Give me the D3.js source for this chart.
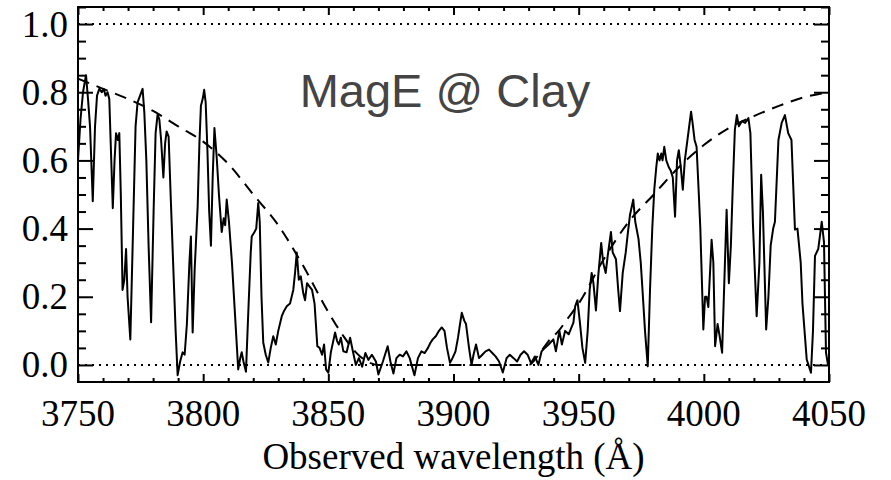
<!DOCTYPE html>
<html><head><meta charset="utf-8">
<script src="https://cdn.jsdelivr.net/npm/d3@7"></script>
<style>
html,body{margin:0;padding:0;background:#fff;}
svg{display:block;}
</style></head>
<body>
<svg id="chart" width="891" height="480"></svg>
<script>
// ---- data ----
const specWave = [3750,3751.0,3752.0,3753.2,3754.0,3754.8,3755.9,3756.8,3757.6,3758.5,3759.5,3760.3,3761.0,3761.8,3762.5,3763.2,3763.9,3764.6,3765.2,3765.9,3766.5,3767.1,3767.8,3768.5,3769.2,3769.8,3770.9,3772.0,3773.0,3773.8,3774.8,3775.8,3776.5,3777.3,3778.2,3779.2,3780.2,3781.0,3781.8,3782.5,3783.2,3784.1,3784.8,3785.4,3786.2,3787.0,3788.0,3789.0,3789.8,3790.8,3791.8,3792.6,3793.5,3794.5,3795.1,3795.8,3796.6,3797.8,3798.5,3799.1,3799.8,3800.4,3801.0,3801.7,3802.4,3803.1,3803.8,3804.5,3805.4,3806.3,3807.4,3808.2,3808.8,3809.4,3810.3,3811.5,3812.7,3814.0,3814.8,3815.4,3816.1,3817.1,3818.0,3819.0,3819.4,3820.5,3821.2,3822.0,3822.6,3823.3,3824.0,3825.0,3826.0,3827.0,3828.0,3829.0,3830.0,3831.4,3832.4,3833.4,3834.7,3836.0,3836.7,3837.4,3838.2,3839.0,3840.0,3840.7,3841.5,3842.5,3843.5,3844.5,3845.6,3846.5,3847.5,3848.3,3849.1,3850.0,3851.0,3852.7,3853.5,3854.2,3855.0,3856.0,3857.3,3858.7,3859.8,3861.0,3862.2,3863.5,3864.8,3866.0,3867.4,3869.0,3870.0,3871.8,3873.7,3874.8,3876.0,3877.2,3878.5,3879.8,3881.2,3882.5,3884.4,3885.8,3887.2,3888.5,3889.8,3890.8,3891.7,3893.0,3894.2,3895.3,3896.4,3897.4,3898.6,3899.6,3900.8,3901.8,3902.6,3903.3,3904.3,3905.0,3906.2,3907.2,3908.0,3909.0,3910.2,3911.5,3912.8,3914.2,3915.5,3916.8,3918.2,3919.7,3921.2,3922.5,3924.0,3925.4,3926.8,3928.2,3929.6,3931.0,3932.5,3933.9,3935.2,3936.5,3938.0,3939.9,3940.9,3942.3,3943.3,3944.6,3946.0,3947.9,3948.6,3949.5,3950.5,3951.5,3952.6,3953.6,3954.4,3955.2,3955.9,3956.9,3957.8,3959.0,3959.8,3960.8,3961.6,3962.9,3963.6,3964.9,3965.8,3966.5,3967.6,3968.8,3969.5,3970.5,3971.8,3972.6,3973.9,3974.8,3975.5,3976.5,3977.6,3978.5,3979.4,3980.2,3981.0,3981.6,3982.3,3983.0,3983.5,3984.2,3985.0,3986.0,3986.8,3987.6,3988.5,3989.3,3990.0,3990.8,3991.6,3992.4,3993.8,3994.9,3995.5,3996.3,3997.1,3998.0,3998.6,3999.8,4000.5,4001.1,4001.8,4003.1,4003.8,4004.5,4005.5,4006.2,4007.3,4008.0,4009.1,4010.0,4010.8,4011.5,4012.4,4013.2,4014.0,4015.2,4016.5,4017.8,4018.6,4019.6,4021.1,4022.2,4022.9,4023.6,4024.9,4025.8,4026.7,4027.7,4028.4,4029.8,4031.1,4032.4,4033.7,4035.0,4036.4,4037.4,4038.7,4039.4,4041.1,4042.8,4043.6,4044.4,4045.7,4047.1,4048.0,4048.8,4049.6,4050];
const specFlux = [0.60,0.72,0.80,0.85,0.78,0.70,0.48,0.70,0.79,0.81,0.80,0.81,0.79,0.80,0.78,0.62,0.46,0.60,0.68,0.66,0.68,0.50,0.22,0.25,0.34,0.20,0.075,0.40,0.70,0.77,0.79,0.81,0.74,0.60,0.35,0.125,0.45,0.68,0.735,0.72,0.66,0.55,0.65,0.685,0.67,0.50,0.30,0.10,-0.03,0.01,0.037,0.03,0.12,0.30,0.377,0.095,0.28,0.465,0.65,0.76,0.78,0.807,0.77,0.63,0.45,0.35,0.55,0.695,0.61,0.50,0.39,0.43,0.41,0.485,0.42,0.30,0.15,-0.013,0.02,0.037,0.01,-0.02,0.15,0.33,0.377,0.39,0.40,0.475,0.42,0.20,0.066,0.03,0.007,0.05,0.084,0.06,0.10,0.143,0.16,0.172,0.18,0.22,0.27,0.33,0.25,0.26,0.21,0.19,0.24,0.23,0.22,0.18,0.055,0.05,0.03,0.06,-0.013,-0.023,0.037,0.095,0.07,0.06,0.08,0.04,0.037,0.08,0.04,0.00,0.02,-0.005,0.035,0.015,0.03,0.01,-0.028,0.01,0.055,0.01,-0.025,0.02,0.03,0.025,0.04,0.02,-0.03,0.02,0.04,0.035,0.05,0.065,0.075,0.085,0.10,0.11,0.10,0.05,0.006,0.02,0.04,0.08,0.12,0.153,0.13,0.12,0.05,0.00,0.03,0.06,0.02,0.03,0.04,0.045,0.035,0.025,0.01,-0.022,0.02,0.03,0.02,0.01,0.03,0.04,0.03,0.005,0.025,0.0,0.04,0.05,0.06,0.075,0.04,0.10,0.06,0.10,0.09,0.124,0.172,0.19,0.124,0.05,0.006,0.10,0.22,0.27,0.24,0.16,0.26,0.358,0.30,0.27,0.32,0.39,0.33,0.31,0.22,0.158,0.27,0.33,0.377,0.44,0.485,0.42,0.37,0.30,0.22,0.10,-0.004,0.22,0.40,0.514,0.58,0.62,0.60,0.62,0.60,0.64,0.60,0.58,0.57,0.55,0.435,0.60,0.63,0.58,0.514,0.60,0.68,0.743,0.71,0.66,0.64,0.50,0.40,0.104,0.20,0.20,0.17,0.367,0.30,0.055,0.12,0.09,0.036,0.20,0.455,0.24,0.35,0.51,0.69,0.733,0.70,0.715,0.71,0.724,0.68,0.416,0.143,0.30,0.558,0.45,0.104,0.20,0.35,0.40,0.42,0.66,0.71,0.733,0.68,0.66,0.397,0.40,0.30,0.18,0.016,-0.023,0.10,0.32,0.34,0.42,0.36,0.036,0.0,0.02];

const contWave = [3750,3760,3770,3780,3790,3800,3810,3820,3830,3840,3850,3856,3861,3866,3870,3900,3930,3934,3938,3942,3946,3950,3960,3970,3980,3990,4000,4010,4020,4030,4040,4050];
const contFlux = [0.84,0.81,0.78,0.745,0.70,0.655,0.59,0.50,0.41,0.29,0.155,0.085,0.037,0.008,0,0,0,0.03,0.07,0.10,0.14,0.18,0.31,0.42,0.50,0.58,0.645,0.695,0.73,0.76,0.785,0.80];

const xTickValues = [3750,3800,3850,3900,3950,4000,4050];
const yTickValues = [0.0,0.2,0.4,0.6,0.8,1.0];
const yTickLabels = ["0.0","0.2","0.4","0.6","0.8","1.0"];
const refLevels = [0.0,1.0];
const titleText = "MagE @ Clay";
const xAxisTitle = "Observed wavelength (Å)";

// ---- layout ----
const L = 78, R = 829, T = 7, B = 382;
const svg = d3.select("#chart");
const x = d3.scaleLinear().domain([3750,4050]).range([L,R]);
const y = d3.scaleLinear().domain([-0.05,1.05]).range([B,T]);

const serif = "'Liberation Serif','Times New Roman',serif";

// reference dotted lines
svg.selectAll("line.ref").data(refLevels).enter().append("line")
  .attr("class","ref")
  .attr("x1",L).attr("x2",R)
  .attr("y1",d=>y(d)).attr("y2",d=>y(d))
  .attr("stroke","#000").attr("stroke-width",2)
  .attr("stroke-dasharray","2,5");

// clip
svg.append("clipPath").attr("id","clip").append("rect")
  .attr("x",L).attr("y",T).attr("width",R-L).attr("height",B-T);

// continuum dashed
const contData = contWave.map((w,i)=>[w,contFlux[i]]);
svg.append("path").datum(contData)
  .attr("clip-path","url(#clip)")
  .attr("fill","none").attr("stroke","#000").attr("stroke-width",2)
  .attr("stroke-dasharray","12,8")
  .attr("d",d3.line().x(d=>x(d[0])).y(d=>y(d[1])).curve(d3.curveMonotoneX));

// spectrum
const specData = specWave.map((w,i)=>[w,specFlux[i]]);
svg.append("path").datum(specData)
  .attr("clip-path","url(#clip)")
  .attr("fill","none").attr("stroke","#000").attr("stroke-width",2)
  .attr("stroke-linejoin","round")
  .attr("d",d3.line().x(d=>x(d[0])).y(d=>y(d[1])));

// axes helper
function axisGroup(axisFn, transform, ticks, size){
  const a = axisFn.tickValues(ticks).tickSize(size).tickPadding(0).tickFormat("");
  const g = svg.append("g").attr("transform",transform).call(a);
  g.select(".domain").remove();
  g.selectAll(".tick line").attr("stroke","#000").attr("stroke-width",2);
  return g;
}
const xMinor = d3.range(3760,4050,10).filter(v=>v%50!==0);
const yMinor = d3.range(0,1.051,0.05).map(v=>+v.toFixed(2)).filter(v=>Math.round(v*100)%20!==0);

axisGroup(d3.axisBottom(x), `translate(0,${B})`, xTickValues, -8);
axisGroup(d3.axisBottom(x), `translate(0,${B})`, xMinor, -4);
axisGroup(d3.axisTop(x), `translate(0,${T})`, xTickValues, -8);
axisGroup(d3.axisTop(x), `translate(0,${T})`, xMinor, -4);
axisGroup(d3.axisLeft(y), `translate(${L},0)`, yTickValues, -15);
axisGroup(d3.axisLeft(y), `translate(${L},0)`, yMinor, -8);
axisGroup(d3.axisRight(y), `translate(${R},0)`, yTickValues, -15);
axisGroup(d3.axisRight(y), `translate(${R},0)`, yMinor, -8);

// frame
svg.append("rect").attr("x",L).attr("y",T).attr("width",R-L).attr("height",B-T)
  .attr("fill","none").attr("stroke","#000").attr("stroke-width",2);

// tick labels
svg.selectAll("text.xl").data(xTickValues).enter().append("text")
  .attr("class","xl")
  .attr("x",d=>x(d)).attr("y",426)
  .attr("text-anchor","middle")
  .attr("font-family",serif).attr("font-size",37)
  .text(d=>d3.format("d")(d));

svg.selectAll("text.yl").data(yTickValues).enter().append("text")
  .attr("class","yl")
  .attr("x",68).attr("y",d=>y(d)+12.5)
  .attr("text-anchor","end")
  .attr("font-family",serif).attr("font-size",37)
  .text((d,i)=>yTickLabels[i]);

// axis title
svg.append("text")
  .attr("x",(L+R)/2).attr("y",469)
  .attr("text-anchor","middle")
  .attr("font-family",serif).attr("font-size",37)
  .text(xAxisTitle);

// panel title
svg.append("text")
  .attr("x",445).attr("y",107)
  .attr("text-anchor","middle")
  .attr("font-family","'Liberation Sans',Arial,sans-serif").attr("font-size",47)
  .attr("fill","#444")
  .text(titleText);
</script>
</body></html>
